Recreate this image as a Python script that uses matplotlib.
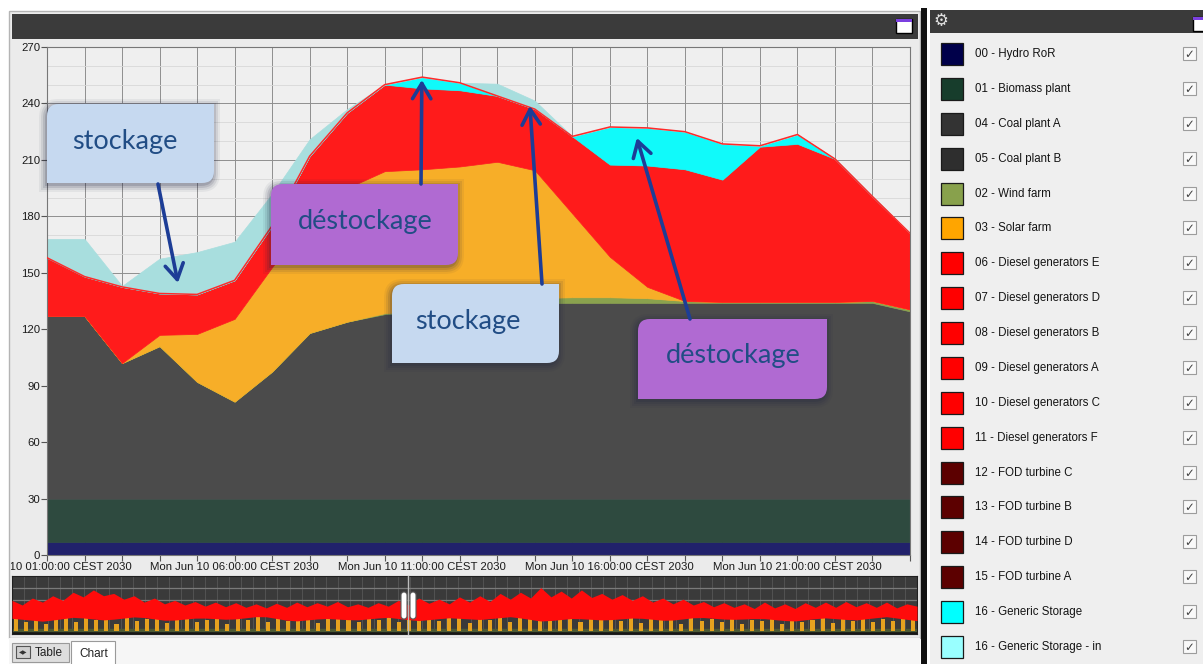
import numpy as np
import matplotlib
matplotlib.use("Agg")
import matplotlib.pyplot as plt
from matplotlib.path import Path
from matplotlib.patches import PathPatch, Rectangle, FancyBboxPatch
from matplotlib.transforms import Bbox, TransformedBbox
from matplotlib.ticker import MultipleLocator

W, H = 1203, 664
plt.rcParams['font.family'] = ['Liberation Sans', 'DejaVu Sans']

# ---------------- hourly dispatch, Mon Jun 10 2030 (01:00 .. 24:00) ----------------
hours = list(range(1, 25))
tick_hours = [1, 6, 11, 16, 21]
tick_labels = ["Mon Jun 10 01:00:00 CEST 2030", "Mon Jun 10 06:00:00 CEST 2030",
               "Mon Jun 10 11:00:00 CEST 2030", "Mon Jun 10 16:00:00 CEST 2030",
               "Mon Jun 10 21:00:00 CEST 2030"]

hydro = [7] * 24
biomass = [23] * 24
coal = [97, 97, 72, 81, 62, 51.5, 67.5, 88, 94, 98, 99, 101, 103, 104, 104, 104,
        104, 104, 104, 104, 104, 104, 104, 99.5]
wind = [0, 0, 0, 0, 0, 0, 0, 0, 0, 0.5, 1, 1.5, 2, 2.5, 3, 3, 2.5, 1, 0.5, 0.5,
        0.5, 0.5, 1, 1]
solar = [0, 0, 0, 6, 25.5, 44, 55.5, 60, 71, 75.5, 75, 74, 74, 68, 44.5, 21.5, 6,
         0, 0, 0, 0, 0, 0, 0]
diesel = [31, 21, 40.5, 22, 21, 20.5, 22, 34, 40, 46, 43, 40.5, 35, 32.5, 41, 49,
          64.5, 70, 65, 82.5, 84, 76, 55.5, 40.5]
storage_out = [0, 0, 0, 0, 0, 0, 0, 0, 0, 0, 6, 4, 0, 0, 0, 20, 20, 20, 19, 0.5, 5,
               0, 0, 0]
storage_in = [10, 20, 0.5, 18.5, 22.5, 20.5, 17, 9, 2, 0, 0, 0, 6.5, 4.5, 0, 0, 0,
              0, 0, 0, 0, 0, 0, 0]

fill_colors = ["#21216b", "#2e4a3f", "#4b4b4b", "#8aa24e", "#f7ae28", "#ff1b1b",
               "#10fafa", "#a8dede"]

# ---------------- series list ----------------
legend_names = ["00 - Hydro RoR", "01 - Biomass plant", "04 - Coal plant A",
                "05 - Coal plant B", "02 - Wind farm", "03 - Solar farm",
                "06 - Diesel generators E", "07 - Diesel generators D",
                "08 - Diesel generators B", "09 - Diesel generators A",
                "10 - Diesel generators C", "11 - Diesel generators F",
                "12 - FOD turbine C", "13 - FOD turbine B", "14 - FOD turbine D",
                "15 - FOD turbine A", "16 - Generic Storage",
                "16 - Generic Storage - in"]
legend_colors = ["#00004a", "#173d2c", "#333333", "#2e2e2e", "#88a14c", "#ffa500",
                 "#ff0000", "#ff0000", "#ff0000", "#ff0000", "#ff0000", "#ff0000",
                 "#5c0000", "#5c0000", "#5c0000", "#5c0000", "#00ffff", "#99ffff"]

# ---------------- navigator (whole horizon, normalised height) ----------------
nav_total = [0.58, 0.50, 0.62, 0.55, 0.66, 0.58, 0.72, 0.64, 0.76, 0.66, 0.70, 0.60,
             0.66, 0.55, 0.62, 0.52, 0.58, 0.50, 0.56, 0.48, 0.55, 0.47, 0.54, 0.46,
             0.52, 0.45, 0.53, 0.46, 0.55, 0.47, 0.54, 0.48, 0.56, 0.47, 0.52, 0.46,
             0.54, 0.48, 0.58, 0.50, 0.62, 0.53, 0.60, 0.52, 0.64, 0.55, 0.66, 0.56,
             0.70, 0.60, 0.72, 0.62, 0.80, 0.64, 0.74, 0.62, 0.76, 0.63, 0.70, 0.60,
             0.68, 0.58, 0.66, 0.55, 0.62, 0.52, 0.60, 0.50, 0.56, 0.47, 0.54, 0.46,
             0.52, 0.44, 0.55, 0.45, 0.52, 0.44, 0.54, 0.46, 0.55, 0.46, 0.56, 0.47,
             0.54, 0.46, 0.55, 0.45, 0.52, 0.48]
nav_floor = [0.27, 0.22, 0.29, 0.24, 0.30, 0.23, 0.28, 0.25, 0.31, 0.22, 0.27, 0.24,
             0.29, 0.23, 0.28, 0.25, 0.30, 0.22, 0.27, 0.24, 0.28, 0.23, 0.29, 0.25,
             0.27, 0.22, 0.28, 0.24, 0.30, 0.23]
nav_solar = [0.22, 0.15, 0.28, 0.12, 0.20, 0.25, 0.14, 0.30, 0.18, 0.22, 0.12, 0.26,
             0.16, 0.20, 0.24, 0.13, 0.22, 0.27, 0.15, 0.19, 0.25, 0.12, 0.23, 0.18,
             0.28, 0.14, 0.21, 0.16, 0.26, 0.19, 0.13, 0.24, 0.20, 0.29, 0.15, 0.22,
             0.18, 0.27, 0.14, 0.23, 0.19, 0.30, 0.16, 0.25, 0.21, 0.13, 0.28, 0.18,
             0.24, 0.15, 0.32, 0.20, 0.26, 0.17, 0.30, 0.22, 0.14, 0.27, 0.19, 0.24,
             0.16, 0.22, 0.13, 0.25, 0.18, 0.21, 0.12, 0.24, 0.17, 0.20, 0.14, 0.22,
             0.11, 0.19, 0.16, 0.23, 0.12, 0.20, 0.15, 0.18, 0.24, 0.13, 0.21, 0.17,
             0.26, 0.14, 0.20, 0.16, 0.22, 0.19]

fig = plt.figure(figsize=(W / 100, H / 100), dpi=100)
fig.patch.set_facecolor("white")


def px_axes(x0, y0, x1, y1, **kw):
    return fig.add_axes([x0 / W, 1 - y1 / H, (x1 - x0) / W, (y1 - y0) / H], **kw)


def pixel_canvas(z):
    a = px_axes(0, 0, W, H)
    a.set_xlim(0, W)
    a.set_ylim(H, 0)
    a.axis("off")
    a.patch.set_visible(False)
    a.set_zorder(z)
    return a


# ---------------- window chrome ----------------
ui = pixel_canvas(-5)
ui.add_patch(Rectangle((9, 11), 911, 627, fc="#ebebeb", ec="#b4b4b4", lw=1))
ui.add_patch(Rectangle((12, 14), 906, 25, fc="#3b3b3b", lw=0))
ui.add_patch(Rectangle((896, 19), 16, 14, fc="white", ec="black", lw=1))
ui.add_patch(Rectangle((896, 19), 16, 3, fc="#7b3fe0", lw=0))
ui.add_patch(Rectangle((9, 638), 911, 26, fc="#f6f6f6", lw=0))
# tabs
ui.add_patch(Rectangle((12, 643), 57, 19, fc="#dedede", ec="#9a9a9a", lw=0.8))
ui.add_patch(Rectangle((16, 646), 14, 12, fc="#cfcfcf", ec="#555555", lw=0.8))
ui.text(23, 652.5, "\u25c0\u25b6", fontsize=4, ha="center", va="center",
        color="#333333", family=["DejaVu Sans"])
ui.text(35, 652.5, "Table", fontsize=8.5, va="center", color="#222222")
ui.add_patch(Rectangle((71, 641), 44, 24, fc="white", ec="#9a9a9a", lw=0.8))
ui.text(79, 654, "Chart", fontsize=8.5, va="center", color="#222222")

# right-hand series panel
ui.add_patch(Rectangle((921, 8), 6, 656, fc="#111111", lw=0))
ui.add_patch(Rectangle((930, 10), 273, 654, fc="#efefef", lw=0))
ui.add_patch(Rectangle((930, 10), 273, 23, fc="#3a3a3a", lw=0))
ui.text(941, 21.5, "\u2699", fontsize=12, ha="center", va="center",
        color="#e0e0e0", family=["DejaVu Sans"])
ui.add_patch(Rectangle((1193, 17), 12, 14, fc="white", ec="black", lw=1))
ui.add_patch(Rectangle((1193, 17), 12, 3, fc="#7b3fe0", lw=0))
for i, (name, col) in enumerate(zip(legend_names, legend_colors)):
    y = 54 + 34.88 * i
    ui.add_patch(Rectangle((941, y - 11), 22, 22, fc=col, ec="#1a1a1a", lw=0.9))
    ui.text(975, y, name, fontsize=8.3, va="center", color="#141414")
    ui.add_patch(Rectangle((1183, y - 7), 13, 13, fc="#f9f9f9", ec="#9c9c9c", lw=0.8))
    ui.text(1189.5, y + 0.5, "\u2713", fontsize=8.5, ha="center", va="center",
            color="#444444", fontweight="bold", family=["DejaVu Sans"])

# ---------------- main stacked-area chart ----------------
ax = px_axes(47, 47, 910, 555)
ax.set_zorder(1)
ax.set_facecolor("#efefef")
ax.stackplot(hours, hydro, biomass, coal, wind, solar, diesel, storage_out,
             storage_in, colors=fill_colors, linewidth=0.5, edgecolor="face",
             zorder=2)
supply_top = np.cumsum([hydro, biomass, coal, wind, solar, diesel, storage_out],
                       axis=0)[-1]
ax.plot(hours, supply_top, color="#ff2a2a", lw=1.1, zorder=3)

ax.set_xlim(hours[0], hours[-1])
ax.set_ylim(0, 270)
ax.set_yticks(range(0, 271, 30))
ax.yaxis.set_minor_locator(MultipleLocator(10))
ax.set_xticks(hours)
ax.set_xticklabels([tick_labels[tick_hours.index(h)] if h in tick_hours else ""
                    for h in hours])
ax.set_axisbelow(True)
ax.grid(which="major", color="#8e8e8e", lw=0.7)
ax.grid(which="minor", axis="y", color="#d8d8d8", lw=0.6)
ax.tick_params(which="major", direction="out", length=4, width=0.8,
               color="#555555", labelsize=8.2, labelcolor="#1a1a1a", pad=0.8)
ax.tick_params(which="minor", length=0)
for s in ax.spines.values():
    s.set_color("#777777")
    s.set_linewidth(0.8)
clip = TransformedBbox(Bbox.from_extents(11 / W, 0, 918 / W, 1), fig.transFigure)
for lbl in ax.get_xticklabels():
    lbl.set_clip_on(True)
    lbl.set_clip_box(clip)

# ---------------- navigator strip ----------------
ov = px_axes(12, 576, 917, 634)
ov.set_zorder(1)
ov.set_facecolor("#3a3a3a")
ov.set_xlim(0, 1)
ov.set_ylim(0, 1)
ov.set_xticks(np.linspace(0, 1, 76))
ov.set_yticks([0.58, 0.80])
ov.grid(axis="x", color="#525252", lw=0.7)
ov.grid(axis="y", color="#7a7a7a", lw=0.9)
ov.tick_params(length=0, labelbottom=False, labelleft=False)
ov.set_axisbelow(True)
ov.axhspan(0.0, 0.05, color="#161616", zorder=1)
ov.axhspan(0.05, 0.08, color="#4d5a34", zorder=1)
bar_x = np.linspace(0.004, 0.996, len(nav_solar))
ov.bar(bar_x, nav_solar, bottom=0.06, width=0.0045, color="#e6a21f", lw=0,
       zorder=2)
nav_x = np.linspace(0, 1, len(nav_total))
floor = np.interp(nav_x, np.linspace(0, 1, len(nav_floor)), nav_floor)
ov.fill_between(nav_x, floor, nav_total, color="#ff0b0b", lw=0, zorder=3)
for s in ov.spines.values():
    s.set_color("#202020")

# ---------------- callouts ----------------
top = pixel_canvas(10)
top.plot([408, 408], [576, 634], color="#bdbdbd", lw=1)
for hx in (401, 410):
    top.add_patch(FancyBboxPatch((hx, 592), 6, 27, boxstyle="round,pad=0,rounding_size=3",
                                 fc="white", ec="#5a5a5a", lw=0.8))


def diag_box(x0, y0, x1, y1, r):
    verts = [(x0 + r, y0), (x1, y0), (x1, y1 - r), (x1, y1), (x1 - r, y1),
             (x0, y1), (x0, y0 + r), (x0, y0), (x0 + r, y0)]
    codes = [Path.MOVETO, Path.LINETO, Path.LINETO, Path.CURVE3, Path.CURVE3,
             Path.LINETO, Path.LINETO, Path.CURVE3, Path.CURVE3]
    return Path(verts, codes)


def callout(x0, y0, x1, y1, fc, text, tx, ty):
    for k, a in [(7, 0.06), (5, 0.09), (3, 0.12), (1, 0.16)]:
        top.add_patch(PathPatch(diag_box(x0 - k - 1, y0 - k + 2, x1 + k - 1, y1 + k + 2, 12 + k),
                                fc="#1e2440", alpha=a, lw=0, zorder=1))
    top.add_patch(PathPatch(diag_box(x0, y0, x1, y1, 12), fc=fc, lw=0, zorder=2))
    top.text(tx, ty, text, fontsize=19.5, ha="center", va="center", color="#214d85",
             family=["Lato", "DejaVu Sans"], zorder=3)


callout(47, 104, 214, 183, "#c6d9f0", "stockage", 125, 141)
callout(271, 184, 458, 265, "#b06ad2", "déstockage", 365, 221)
callout(392, 284, 559, 363, "#c6d9f0", "stockage", 468, 321)
callout(638, 319, 827, 399, "#b06ad2", "déstockage", 733, 356)

arrow_style = dict(arrowstyle="->,head_length=0.55,head_width=0.33", color="#1d3d96",
                   lw=2.6, shrinkA=0, shrinkB=0, mutation_scale=20)
for tail, head in [((158, 184), (4.49, 144.6)), ((421, 184), (10.99, 252.5)),
                   ((542, 284), (13.87, 238.7)), ((690, 319), (16.72, 221.7))]:
    top.annotate("", xy=head, xycoords=ax.transData, xytext=tail,
                 textcoords="data", arrowprops=arrow_style, annotation_clip=False,
                 zorder=4)

fig.savefig("out.png", dpi=100, facecolor=fig.get_facecolor())
